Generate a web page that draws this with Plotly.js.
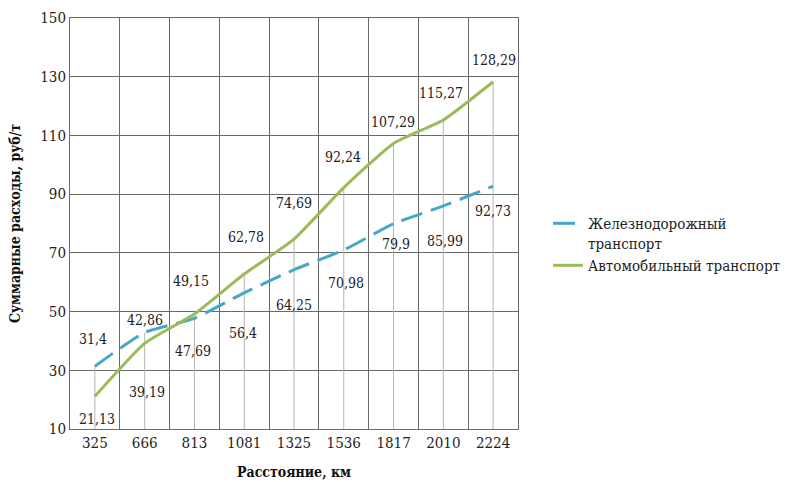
<!DOCTYPE html>
<html>
<head>
<meta charset="utf-8">
<script src="https://cdn.plot.ly/plotly-3.0.1.min.js"></script>
<style>html,body{margin:0;padding:0;background:#fff;}#chart{width:798px;height:482px;}</style>
</head>
<body>
<div id="chart"></div>
<script>
var distances = ['325','666','813','1081','1325','1536','1817','2010','2224'];
var railCost = [31.4, 42.86, 47.69, 56.4, 64.25, 70.98, 79.9, 85.99, 92.73];
var autoCost = [21.13, 39.19, 49.15, 62.78, 74.69, 92.24, 107.29, 115.27, 128.29];
var railName = 'Железнодорожный<br>транспорт';
var autoName = 'Автомобильный транспорт';

// label offsets in pixels (style only)
var railDx = [-2, 0, -1, -1, 0, 2, 2, 2, 0];
var railDy = [-27, -13, 33, 40, 35, 33, 20, 35, 25];
var autoDx = [2, 2, -3, 2, 0, -1, -1, -2, 1];
var autoDy = [23, 49, -33, -37, -36, -31, -21, -27, -22];

var serif = 'DejaVu Serif Condensed, DejaVu Serif';
var fmt = function(v){ return String(v).replace('.', ','); };
var axisMin = 10;
var pos = distances.map(function(d, i){ return i; });
var bounds = distances.concat(['']).map(function(d, i){ return i - 0.5; });
var dropTop = railCost.map(function(v, i){ return Math.max(v, autoCost[i]); });

var traces = [
  {x: pos, y: dropTop, type: 'scatter', mode: 'markers', showlegend: false, hoverinfo: 'skip',
   marker: {size: 1, opacity: 0},
   error_y: {type: 'data', symmetric: false, array: dropTop.map(function(){ return 0; }),
     arrayminus: dropTop.map(function(v){ return v - axisMin; }), color: '#b5b5b5', thickness: 1, width: 0}},
  {x: pos, y: railCost, name: railName, type: 'scatter', mode: 'lines',
   line: {color: '#46a9c3', width: 3, dash: '22px,9px', shape: 'spline', smoothing: 0.5}},
  {x: pos, y: autoCost, name: autoName, type: 'scatter', mode: 'lines',
   line: {color: '#9bbb59', width: 3, shape: 'spline', smoothing: 0.5}}
];

var annotations = [];
pos.forEach(function(p, i){
  annotations.push({x: p, y: railCost[i], xref: 'x', yref: 'y', text: fmt(railCost[i]),
    showarrow: false, xshift: railDx[i], yshift: -railDy[i], font: {family: serif, size: 14, color: '#222'}});
  annotations.push({x: p, y: autoCost[i], xref: 'x', yref: 'y', text: fmt(autoCost[i]),
    showarrow: false, xshift: autoDx[i], yshift: -autoDy[i], font: {family: serif, size: 14, color: '#222'}});
});

var layout = {
  width: 798, height: 482,
  margin: {l: 70, r: 280, t: 18, b: 53},
  paper_bgcolor: '#fff', plot_bgcolor: '#fff',
  font: {family: serif, size: 15, color: '#222'},
  showlegend: true,
  legend: {x: 1.067, y: 0.54, xanchor: 'left', yanchor: 'top', valign: 'top',
    font: {family: serif, size: 15, color: '#222'}, bgcolor: 'rgba(0,0,0,0)'},
  xaxis: {range: [-0.5, distances.length - 0.5], tickmode: 'array', tickvals: pos, ticktext: distances,
    showgrid: false, ticks: '', showline: true, mirror: true, linecolor: '#6a6a6a', linewidth: 1,
    minor: {tickmode: 'array', tickvals: bounds, showgrid: true, gridcolor: '#6a6a6a', gridwidth: 1, ticks: ''},
    tickfont: {family: serif, size: 15, color: '#222'},
    title: {text: '<b>Расстояние, км</b>', font: {family: serif, size: 14, color: '#111'}, standoff: 16},
    zeroline: false, fixedrange: true},
  yaxis: {range: [axisMin, 150], tick0: 10, dtick: 20, showgrid: true, gridcolor: '#6a6a6a', gridwidth: 1,
    ticks: '', showline: true, mirror: true, linecolor: '#6a6a6a', linewidth: 1,
    tickfont: {family: serif, size: 15, color: '#222'},
    title: {text: '<b>Суммарные расходы, руб/т</b>', font: {family: serif, size: 14, color: '#111'}, standoff: 16},
    zeroline: false, fixedrange: true},
  annotations: annotations
};

Plotly.newPlot('chart', traces, layout, {staticPlot: true, displayModeBar: false});
</script>
</body>
</html>
